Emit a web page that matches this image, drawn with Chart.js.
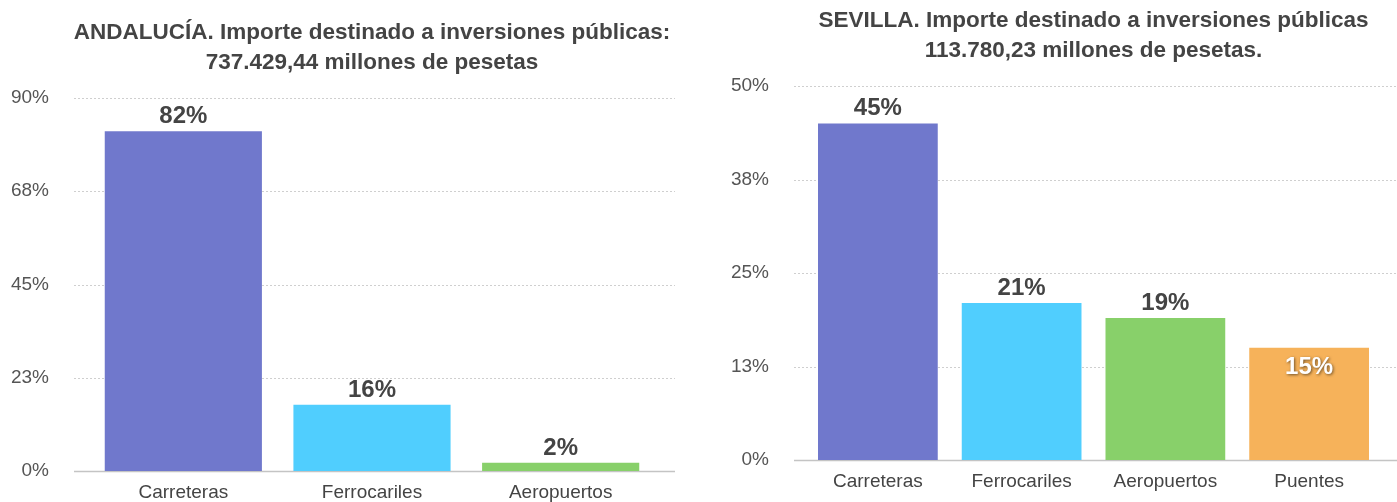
<!DOCTYPE html>
<html>
<head>
<meta charset="utf-8">
<script src="https://cdn.jsdelivr.net/npm/chart.js@4/dist/chart.umd.min.js"></script>
<style>
  html, body { margin: 0; padding: 0; background: #fff; }
  #wrap { position: relative; width: 1397px; height: 502px; }
  canvas { position: absolute; top: 0; }
  #andalucia { left: 0; }
  #sevilla { left: 700px; }
</style>
</head>
<body>
<div id="wrap">
  <canvas id="andalucia" width="700" height="502"></canvas>
  <canvas id="sevilla" width="697" height="502"></canvas>
</div>
<script>
// ---- datos ----
const categoriasAnd = ["Carreteras", "Ferrocariles", "Aeropuertos"];
const valoresAnd = [82, 16, 2];
const ticksAnd = [0, 22.5, 45, 67.5, 90];

const categoriasSev = ["Carreteras", "Ferrocariles", "Aeropuertos", "Puentes"];
const valoresSev = [45, 21, 19, 15];
const ticksSev = [0, 12.5, 25, 37.5, 50];

const colores = ["#7078cc", "#50cefe", "#88d06a", "#f6b25a"];

const FONT = "'Liberation Sans', Arial, sans-serif";

// rejilla punteada que sobresale del área de barras
const rejilla = {
  id: "rejilla",
  beforeDatasetsDraw(chart, args, opts) {
    const ctx = chart.ctx, y = chart.scales.y, a = chart.chartArea;
    const x0 = a.left - opts.extIzq, x1 = a.right + opts.extDer;
    ctx.save();
    y.ticks.forEach(t => {
      const py = Math.round(y.getPixelForValue(t.value)) + 0.5;
      ctx.beginPath();
      if (t.value === 0) {
        ctx.setLineDash([]);
        ctx.strokeStyle = "#c4c4c4";
        ctx.lineWidth = 1.5;
      } else {
        ctx.setLineDash([2, 2]);
        ctx.strokeStyle = "#cfcfcf";
        ctx.lineWidth = 1;
      }
      ctx.moveTo(x0, py);
      ctx.lineTo(x1, py);
      ctx.stroke();
    });
    ctx.restore();
  }
};

// etiquetas de porcentaje sobre (o dentro de) cada barra
const etiquetas = {
  id: "etiquetas",
  afterDatasetsDraw(chart, args, opts) {
    const ctx = chart.ctx;
    const ds = chart.data.datasets[0];
    const meta = chart.getDatasetMeta(0);
    ctx.save();
    ctx.font = "bold 24px " + FONT;
    ctx.textAlign = "center";
    meta.data.forEach((bar, i) => {
      const txt = ds.data[i] + "%";
      if (opts.dentro && opts.dentro[i]) {
        ctx.fillStyle = "#ffffff";
        ctx.shadowColor = "rgba(0,0,0,0.55)";
        ctx.shadowBlur = 3;
        ctx.shadowOffsetX = 1;
        ctx.shadowOffsetY = 1;
        ctx.textBaseline = "middle";
        ctx.fillText(txt, bar.x, bar.y + 20);
        ctx.shadowColor = "transparent";
      } else {
        ctx.fillStyle = "#444444";
        ctx.textBaseline = "alphabetic";
        ctx.fillText(txt, bar.x, bar.y - 8);
      }
    });
    ctx.restore();
  }
};

// título de dos líneas centrado sobre el área de barras
const titulo = {
  id: "titulo",
  afterDraw(chart, args, opts) {
    const ctx = chart.ctx, a = chart.chartArea;
    const cx = (a.left + a.right) / 2;
    ctx.save();
    ctx.font = "bold 22.5px " + FONT;
    ctx.fillStyle = "#444444";
    ctx.textAlign = "center";
    ctx.textBaseline = "middle";
    opts.lineas.forEach((l, i) => ctx.fillText(l, cx, a.top - 65 + i * 30));
    ctx.restore();
  }
};

function grafico(id, cats, vals, ticks, conf) {
  return new Chart(document.getElementById(id), {
    type: "bar",
    data: {
      labels: cats,
      datasets: [{
        data: vals,
        backgroundColor: colores.slice(0, cats.length),
        borderWidth: 0,
        categoryPercentage: 1,
        barPercentage: 0.833
      }]
    },
    options: {
      responsive: false,
      animation: false,
      devicePixelRatio: 1,
      layout: { padding: { top: conf.top, right: conf.right, left: 0, bottom: 0 } },
      plugins: {
        legend: { display: false },
        tooltip: { enabled: false },
        titulo: { lineas: conf.titulo },
        etiquetas: { dentro: conf.dentro },
        rejilla: { extIzq: conf.extIzq, extDer: conf.extDer }
      },
      scales: {
        x: {
          grid: { display: false, drawTicks: false },
          border: { display: false },
          ticks: { color: "#444", font: { family: FONT, size: 19 }, padding: 10, maxRotation: 0 },
          afterFit(s) { s.height = 502 - conf.top - conf.alto; }
        },
        y: {
          min: ticks[0],
          max: ticks[ticks.length - 1],
          grid: { display: false, drawTicks: false },
          border: { display: false },
          afterBuildTicks(s) { s.ticks = ticks.map(v => ({ value: v })); },
          afterFit(s) {
            s.width = conf.izq;
            s.paddingTop = 0;
            s.paddingBottom = 0;
          },
          ticks: {
            color: "#555",
            font: { family: FONT, size: 19 },
            padding: conf.padY,
            callback: v => Math.round(v) + "%"
          }
        }
      }
    },
    plugins: [rejilla, etiquetas, titulo]
  });
}

grafico("andalucia", categoriasAnd, valoresAnd, ticksAnd, {
  titulo: ["ANDALUCÍA. Importe destinado a inversiones públicas:", "737.429,44 millones de pesetas"],
  top: 98, alto: 373, izq: 89, right: 45, padY: 40,
  extIzq: 15, extDer: 20, dentro: null
});

grafico("sevilla", categoriasSev, valoresSev, ticksSev, {
  titulo: ["SEVILLA. Importe destinado a inversiones públicas", "113.780,23 millones de pesetas."],
  top: 86, alto: 374, izq: 106, right: 16, padY: 37,
  extIzq: 12, extDer: 16, dentro: [false, false, false, true]
});
</script>
</body>
</html>
